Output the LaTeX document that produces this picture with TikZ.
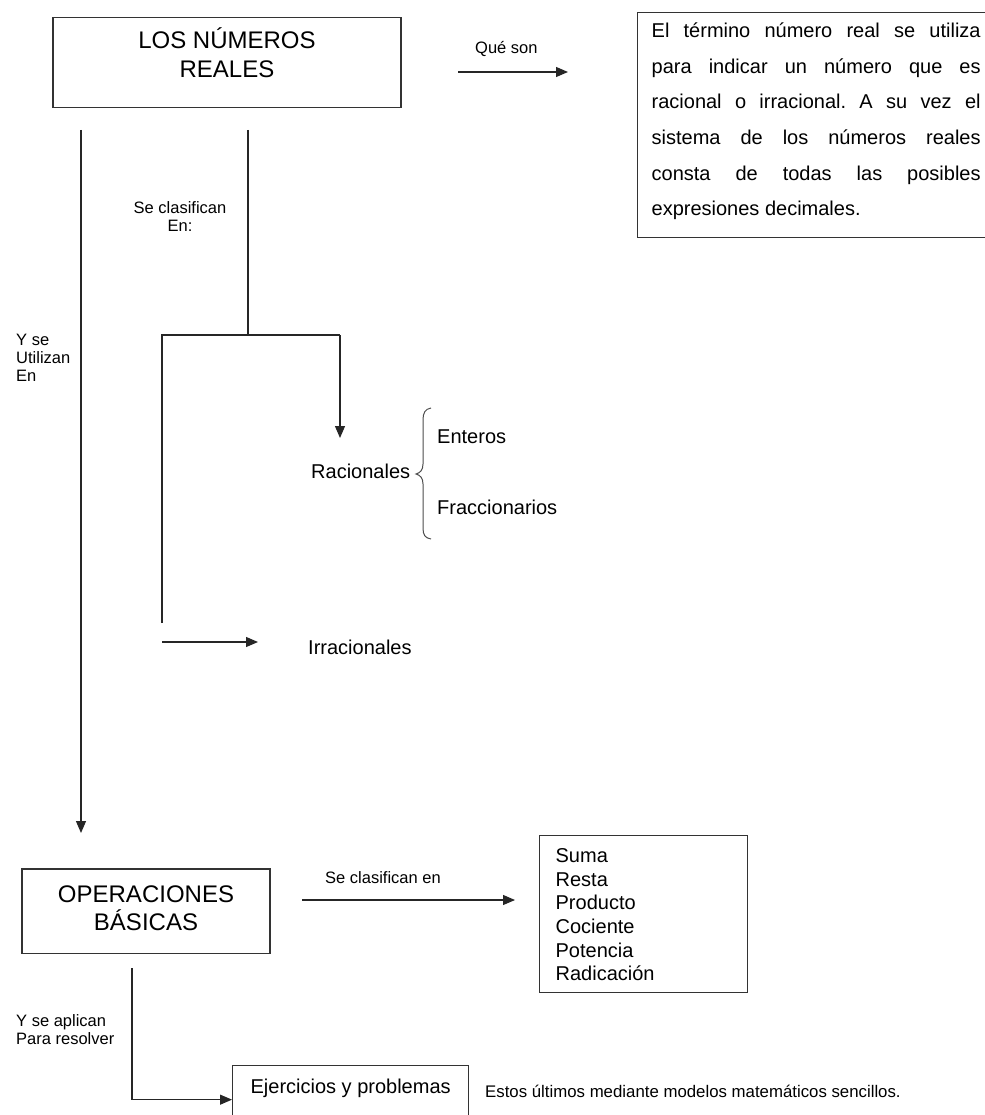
\documentclass[tikz,border=0pt]{standalone}
\usepackage{fontspec}
\setmainfont{Liberation Sans}
\usetikzlibrary{arrows.meta}
\hbadness=10000
\frenchspacing
\begin{document}
\begin{tikzpicture}[x=1pt,y=-1pt,
  ln/.style={line width=1.2pt, draw=black!85},
  arr/.style={ln, -{Triangle[length=12pt,width=10pt]}},
  box/.style={draw=black!80, line width=1.3pt, inner sep=0pt},
  lbl/.style={inner sep=0pt, font=\fontsize{16.5}{18}\selectfont},
  txt/.style={inner sep=0pt, font=\fontsize{20}{23.6}\selectfont}]
\useasboundingbox (0,0) rectangle (984,1115);

% title box
\node[box, anchor=base, minimum width=348pt, text height=31pt, text depth=59pt,
      font=\fontsize{24}{29.4}\selectfont] (reales) at (227,48.3)
  {\parbox[t]{340pt}{\centering LOS NÚMEROS\\REALES}};

% definition box
\node[box, anchor=north west, inner xsep=14pt, text height=25pt, text depth=200pt,
      font=\fontsize{20}{35.6}\selectfont] (def) at (637,12)
  {\parbox[t]{329pt}{El término número real se utiliza\linebreak
   para indicar un número que es\linebreak
   racional o irracional. A su vez el\linebreak
   sistema de los números reales\linebreak
   consta de todas las posibles\linebreak
   expresiones decimales.}};

\node[lbl, anchor=base west] (queson) at (475,54) {Qué son};
\coordinate (q1) at (458,72);
\coordinate (q2) at (568,72);
\draw[arr] (q1) -- (q2);

% classification
\node[lbl, anchor=base] (secl) at (180,214)
  {\parbox[t]{120pt}{\centering Se clasifican\\En:}};
\node[lbl, anchor=base west] (util) at (16,345)
  {\parbox[t]{70pt}{\raggedright Y se\\Utilizan\\En}};

\coordinate (c1) at (248,130);
\coordinate (c2) at (248,335);
\coordinate (c3) at (162,623);
\coordinate (c4) at (162,335);
\coordinate (c5) at (340,335);
\coordinate (c6) at (340,438);
\draw[ln] (c1) -- (c2);
\draw[ln] (c3) -- (c4) -- (c5);
\draw[arr] (c5) -- (c6);

\node[txt, anchor=base west] (rac) at (311,478) {Racionales};
\node[txt, anchor=base west] (ent) at (437,443) {Enteros};
\node[txt, anchor=base west] (frac) at (437,514) {Fraccionarios};
\draw[line width=1pt, draw=black!70]
  (431,408) .. controls (425,409) and (423,413) .. (423,420) -- (423,464)
  .. controls (423,470) and (420,473) .. (416,474)
  .. controls (420,475) and (423,478) .. (423,484) -- (423,528)
  .. controls (423,535) and (425,538) .. (431,539);

\coordinate (i1) at (162,642);
\coordinate (i2) at (258,642);
\draw[arr] (i1) -- (i2);
\node[txt, anchor=base west] (irr) at (308,654) {Irracionales};

% uses
\coordinate (u1) at (81,130);
\coordinate (u2) at (81,833);
\draw[arr] (u1) -- (u2);

\node[box, anchor=base, minimum width=248pt, text height=33.6pt, text depth=51pt,
      font=\fontsize{24}{27.4}\selectfont] (oper) at (146,902.6)
  {\parbox[t]{240pt}{\centering OPERACIONES\\BÁSICAS}};

\node[lbl, anchor=base west] (secl2) at (325,883) {Se clasifican en};
\coordinate (o1) at (302,900);
\coordinate (o2) at (515,900);
\draw[arr] (o1) -- (o2);

\node[box, anchor=north west, inner xsep=16pt, text height=27pt, text depth=130pt,
      font=\fontsize{20}{23.6}\selectfont] (ops) at (539,835)
  {\parbox[t]{176pt}{\raggedright Suma\\Resta\\Producto\\Cociente\\Potencia\\Radicación}};

\node[lbl, anchor=base west] (apl) at (16,1026)
  {\parbox[t]{120pt}{\raggedright Y se aplican\\Para resolver}};

\node[box, anchor=north west, minimum width=236pt, text height=28pt, text depth=40pt,
      font=\fontsize{20}{23.6}\selectfont] (ejer) at (232,1065) {Ejercicios y problemas};
\coordinate (b1) at (132,968);
\draw[arr] (b1) |- (ejer.west);

\node[lbl, anchor=base west, font=\fontsize{16.8}{18}\selectfont] (estos) at (485,1097)
  {Estos últimos mediante modelos matemáticos sencillos.};
\end{tikzpicture}
\end{document}
